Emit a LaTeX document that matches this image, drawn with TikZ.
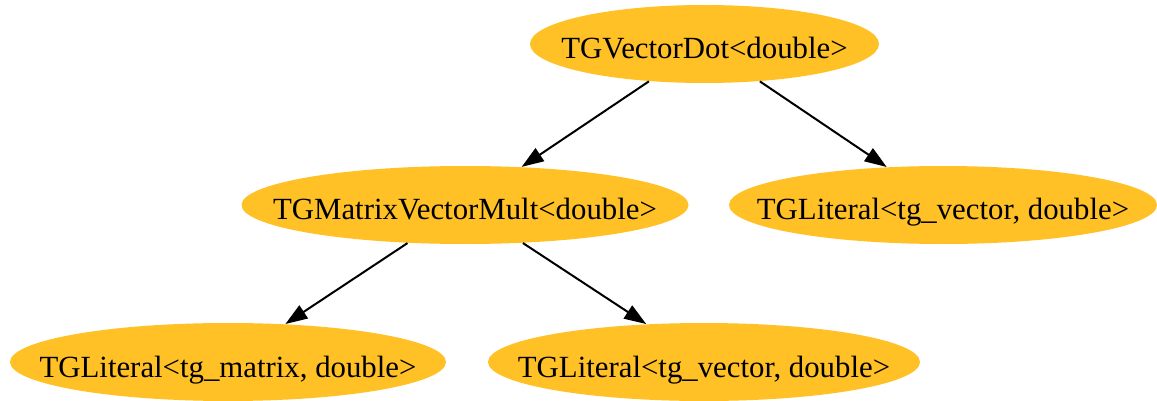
\documentclass[tikz,border=0pt]{standalone}
\usepackage{fontspec}
\setmainfont{Liberation Serif}
\usetikzlibrary{shapes.geometric,arrows.meta}
\definecolor{nodefill}{HTML}{FFC125}
\newcommand{\gvlabel}[1]{\raisebox{-7.5pt}[0pt][0pt]{\makebox[0pt][c]{#1}}}
\tikzset{
  gnode/.style={ellipse, fill=nodefill, draw=none, inner sep=0pt, font=\fontsize{15.4}{18}\selectfont, minimum height=39pt},
  gedge/.style={line width=1pt, -{Triangle[length=11pt,width=7.7pt]}}
}
\begin{document}
\begin{tikzpicture}[x=0.5pt,y=-0.5pt]
\useasboundingbox (0,0) rectangle (1157,401);
\node[gnode, minimum width=174.5pt] (n1) at (704.5,44) {\gvlabel{TGVectorDot<double>}};
\node[gnode, minimum width=223.5pt] (n2) at (465,205) {\gvlabel{TGMatrixVectorMult<double>}};
\node[gnode, minimum width=214pt] (n3) at (943,205) {\gvlabel{TGLiteral<tg\_vector, double>}};
\node[gnode, minimum width=218pt] (n4) at (228,362) {\gvlabel{TGLiteral<tg\_matrix, double>}};
\node[gnode, minimum width=216pt] (n5) at (704,362) {\gvlabel{TGLiteral<tg\_vector, double>}};
\draw[gedge] (n1) -- (n2);
\draw[gedge] (n1) -- (n3);
\draw[gedge] (n2) -- (n4);
\draw[gedge] (n2) -- (n5);
\end{tikzpicture}
\end{document}
